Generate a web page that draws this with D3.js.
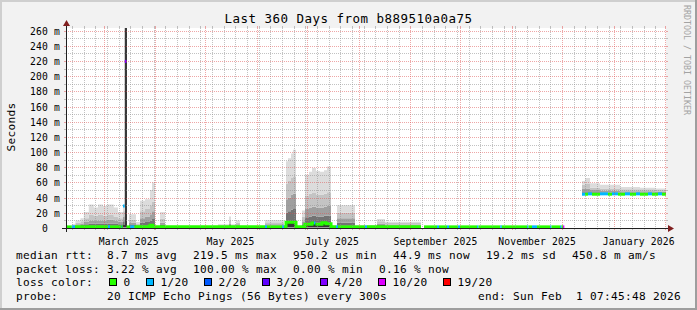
<!DOCTYPE html>
<html><head><meta charset="utf-8">
<script src="https://cdn.jsdelivr.net/npm/d3@7"></script>
<style>
html,body{margin:0;padding:0;background:#f2f2f2;}
svg{display:block;}
text{font-family:"DejaVu Sans Mono",monospace;}
</style></head><body>
<svg id="chart" width="697" height="310"></svg>
<script>
// ---------------- data ----------------
const titleText = "Last 360 Days from b889510a0a75";
const yAxisTitle = "Seconds";
const watermarkText = "RRDTOOL / TOBI OETIKER";
const startTime = "2025-02-06T07:45:48";
const endTime = "2026-02-01T07:45:48";
const yMaxMs = 263.5;
const yTickValues = [0, 20, 40, 60, 80, 100, 120, 140, 160, 180, 200, 220, 240, 260];
const yTickLabels = ["0  ", "20 m", "40 m", "60 m", "80 m", "100 m", "120 m", "140 m", "160 m", "180 m", "200 m", "220 m", "240 m", "260 m"];
const yMinorStep = 10;
const xLabelMonths = ["2025-03-01", "2025-05-01", "2025-07-01", "2025-09-01", "2025-11-01", "2026-01-01"];
const xLabelTexts = ["March 2025", "May 2025", "July 2025", "September 2025", "November 2025", "January 2026"];

// smoke: sorted ping levels (ms) per consolidated step, null = no smoke drawn
const smokeDates = ["2025-02-06T08","2025-02-10","2025-02-12","2025-02-15","2025-02-17","2025-02-20","2025-02-23","2025-02-25T12","2025-02-28T12","2025-03-03","2025-03-07","2025-03-09T12","2025-03-12T12","2025-03-13T14","2025-03-14T22","2025-03-16T03","2025-03-20T08","2025-03-22T17","2025-03-25T17","2025-03-28T17","2025-03-29T22","2025-03-31T17","2025-04-03T17","2025-04-06T17","2025-05-08T12","2025-05-15T03","2025-05-16T08","2025-05-19T08","2025-05-21T17","2025-06-05T17","2025-06-17T03","2025-06-18T08","2025-06-19T12","2025-06-21T08","2025-06-22T12","2025-06-24T08","2025-06-27T22","2025-06-29T17","2025-07-02T03","2025-07-03T22","2025-07-06T08","2025-07-08T17","2025-07-11T03","2025-07-12T22","2025-07-15T08","2025-07-18T22","2025-07-29T17","2025-08-11T22","2025-08-16T17","2025-09-07T08","2025-12-12T22","2025-12-14T17","2025-12-17T17","2025-12-23T17","2025-12-29T17","2026-01-04T17","2026-01-16T17","2026-01-25T17"];
const smokeMin = [null,0.8,0.8,0.8,0.8,0.8,0.8,0.8,0.8,0.8,0.8,0.8,0.8,0.8,null,0.8,0.8,0.8,0.8,0.8,0.8,null,0.8,null,0.8,0.8,0.8,0.8,null,0.8,null,0.8,0.8,0.8,0.8,null,0.8,0.8,0.8,0.8,0.8,0.8,0.8,0.8,null,0.8,0.8,0.8,0.8,null,44,44,44,44,44,44,44,44];
const smokeQ1 = [null,1.5,2,2,2.5,3,3,3,3,3,3,2.5,4,400,null,2,1.5,3,3,4,5,null,2,null,1.5,2,1.5,1.5,null,1.5,null,8,8,9,9,null,2,6,6,7,7,7,7,7,null,3,1.5,2,1.5,null,45,45,45,45,45,45,45,45];
const smokeQ2 = [null,2.5,3,4,5,6,6,6,6,6,6,5,9,400,null,4,2.5,7,8,10,12,null,4,null,2,4,2,3,null,3,null,20,22,24,25,null,5,14,15,16,15,15,16,16,null,7,2,4,3,null,47,47,47,46.5,46.5,46.5,46.5,46];
const smokeQ3 = [null,3.5,5,6,8,10,10,10,10,11,10,8,15,400,null,7,4,13,15,18,22,null,7,null,3,6,3,5,null,5,null,38,40,44,45,null,9,25,27,28,27,27,28,29,null,13,3,6,4.5,null,52,52,50,49,49,48.5,48.5,48];
const smokeQ4 = [null,4.5,7,9,13,17,16,17,16,17,15,13,22,400,null,11,6,22,25,30,35,null,12,null,4,10,4,7,null,7.5,null,58,62,66,68,null,15,42,45,46,44,44,45,47,null,20,3.5,9,6.5,null,57,58,53,52,52,51,51,50];
const smokeMax = [null,5,10,13,21,31,27,31,29,31,27,21,30,400,null,18,8,36,38,50,60,null,21,null,5,15,5,10,null,10.5,null,88,92,98,103,null,23,70,74,79,75,74,76,81,null,30,4,12,8.3,null,62,66,59,57,57,54,53,52];

// median rtt (ms) and loss bucket index per step
const medianDates = ["2025-02-06T08","2025-02-09T20","2025-02-11T17","2025-03-03T12","2025-03-04T17","2025-03-11T15","2025-03-12T00","2025-03-12T12","2025-03-13T14","2025-03-14T15","2025-03-16T17","2025-03-19T10","2025-03-28T17","2025-03-30T12","2025-06-05T17","2025-06-06T22","2025-06-15T22","2025-06-17T03","2025-06-18T08","2025-06-24T08","2025-06-29T17","2025-07-03T22","2025-07-05T03","2025-07-06T00","2025-07-09T22","2025-07-12T08","2025-07-15T08","2025-07-18T08","2025-07-19T12","2025-08-04T17","2025-08-05T22","2025-09-07T08","2025-09-09T03","2025-09-16T22","2025-09-18T03","2025-09-22T22","2025-09-24T03","2025-09-29T12","2025-09-30T17","2025-10-10T22","2025-10-11T20","2025-10-24T22","2025-10-25T20","2025-11-09T22","2025-11-10T20","2025-11-12T22","2025-11-15T22","2025-11-23T17","2025-11-24T15","2025-11-29T17","2025-11-30T15","2025-12-01T12","2025-12-02T08","2025-12-12T22","2025-12-14T17","2025-12-16T12","2025-12-18T22","2025-12-23T17","2025-12-28T12","2025-12-30T22","2026-01-03T12","2026-01-07T17","2026-01-10T17","2026-01-14T08","2026-01-16T17","2026-01-21T12","2026-01-23T22","2026-01-27T12","2026-01-29T22"];
const medianValues = [1.5,1.5,1.5,1.5,1.5,1.5,1.5,29,219.5,1.5,1.5,1.5,3.5,1.5,1.5,1.5,1.5,1.5,7.5,1.5,5,6.5,6.5,5,7,5.5,1.5,1.5,1.5,1.5,1.5,null,1.5,1.5,1.5,1.5,1.5,1.5,1.5,1.5,1.5,1.5,1.5,1.5,1.5,1.5,1.5,1.5,1.5,1.5,1.5,1.5,null,44.5,44.5,45,44.5,45,44.5,45,44.5,45,44.5,45,44.5,45,44.5,45,44.5];
const medianLoss = [0,1,0,1,0,1,0,1,4,0,1,0,0,0,1,0,1,0,0,0,0,0,1,0,0,0,0,1,0,1,0,null,0,1,0,1,0,1,0,1,0,1,0,1,0,1,0,1,0,1,0,5,null,1,0,1,0,1,0,1,0,1,0,1,0,1,0,1,0];

const lossLabels = ["0", "1/20", "2/20", "3/20", "4/20", "10/20", "19/20"];
const lossColors = ["#26ff00", "#00b8ff", "#0059ff", "#5e00ff", "#7e00ff", "#dd00ff", "#ff0000"];
const smokeColors = ["#383838", "#737373", "#a0a0a0", "#c4c4c4", "#dcdcdc"];

const rttLabel = "median rtt:";
const rttStats = ["8.7 ms avg", "219.5 ms max", "950.2 us min", "44.9 ms now", "19.2 ms sd", "450.8 m am/s"];
const lossLabel = "packet loss:";
const lossStats = ["3.22 % avg", "100.00 % max", "0.00 % min", "0.16 % now"];
const lossColorLabel = "loss color:";
const probeLabel = "probe:";
const probeText = "20 ICMP Echo Pings (56 Bytes) every 300s";
const endText = "end: Sun Feb  1 07:45:48 2026";

// ---------------- drawing ----------------
const W = 697, H = 310;
const X0 = 66, X1 = 666, Y0 = 228, Y1 = 28;
const pHour = d3.utcParse("%Y-%m-%dT%H");
const parseT = s => s.length === 10 ? pHour(s + "T00") : (s.length === 13 ? pHour(s) : d3.isoParse(s + "Z"));
const t0 = parseT(startTime), t1 = parseT(endTime);
const x = d3.scaleUtc().domain([t0, t1]).range([X0, X1]);
const y = d3.scaleLinear().domain([0, yMaxMs]).range([Y0, Y1]);

const svg = d3.select("#chart");
// background + 3D frame
svg.append("rect").attr("width", W).attr("height", H).attr("fill", "#f2f2f2");
svg.append("path").attr("d", `M0,0H${W}V2H2V${H}H0Z`).attr("fill", "#cfcfcf");
svg.append("path").attr("d", `M${W},${H}H0V${H-2}H${W-2}V0H${W}Z`).attr("fill", "#9e9e9e");
// canvas
svg.append("rect").attr("x", X0).attr("y", Y1).attr("width", X1 - X0).attr("height", Y0 - Y1).attr("fill", "#ffffff");

const defs = svg.append("defs");
defs.append("clipPath").attr("id", "clip").append("rect").attr("x", X0).attr("y", Y1).attr("width", X1 - X0).attr("height", Y0 - Y1);
const plot = svg.append("g").attr("clip-path", "url(#clip)");

function runs(dates, ok, key) {
  const out = []; let cur = null;
  for (let i = 0; i < dates.length; i++) {
    if (ok(i) && cur && key(i) === cur.key) cur.idx.push(i);
    else {
      if (cur) out.push(cur);
      cur = ok(i) ? { key: key(i), idx: [i] } : null;
    }
  }
  if (cur) out.push(cur);
  return out.map(r => {
    const last = r.idx[r.idx.length - 1];
    const pts = r.idx.map(i => ({ t: parseT(dates[i]), i }));
    pts.push({ t: last + 1 < dates.length ? parseT(dates[last + 1]) : t1, i: last });
    return { key: r.key, pts };
  });
}

// smoke bands
const levels = [smokeMin, smokeQ1, smokeQ2, smokeQ3, smokeQ4, smokeMax];
const smokeRuns = runs(smokeDates, i => smokeMax[i] !== null, () => 1);
for (let k = 0; k < 5; k++) {
  const area = d3.area().curve(d3.curveStepAfter)
    .x(p => x(p.t)).y0(p => y(levels[k][p.i])).y1(p => y(levels[k + 1][p.i]));
  smokeRuns.forEach(r => {
    plot.append("path").attr("d", area(r.pts)).attr("fill", smokeColors[k]);
  });
}

// median line coloured by loss
const medRuns = runs(medianDates, i => medianValues[i] !== null && medianLoss[i] !== null, i => medianLoss[i]);
const medLine = d3.line().curve(d3.curveStepAfter).x(p => x(p.t)).y(p => y(medianValues[p.i]));
medRuns.forEach(r => {
  plot.append("path").attr("d", medLine(r.pts)).attr("fill", "none")
    .attr("stroke", lossColors[r.key]).attr("stroke-width", 3);
});

// grid (drawn over data, like rrdtool)
const gridCol = "rgba(143,143,143,0.55)", mgridCol = "rgba(222,79,79,0.5)";
const g = svg.append("g").attr("shape-rendering", "crispEdges");
const majorT = d3.utcMonth.range(t0, t1);
const minorT = d3.utcMonday.range(t0, t1).filter(d => d.getUTCDate() !== 1);
function vline(t, col) {
  const px = Math.round(x(t)) + 0.5;
  g.append("line").attr("x1", px).attr("x2", px).attr("y1", Y1).attr("y2", Y0)
    .attr("stroke", col).attr("stroke-dasharray", "1,1");
  g.append("line").attr("x1", px).attr("x2", px).attr("y1", Y1 - 2).attr("y2", Y1).attr("stroke", col);
  g.append("line").attr("x1", px).attr("x2", px).attr("y1", Y0).attr("y2", Y0 + 2).attr("stroke", col);
}
function hline(v, col) {
  const py = Math.round(y(v)) + 0.5;
  g.append("line").attr("x1", X0).attr("x2", X1).attr("y1", py).attr("y2", py)
    .attr("stroke", col).attr("stroke-dasharray", "1,1");
  g.append("line").attr("x1", X0 - 2).attr("x2", X0).attr("y1", py).attr("y2", py).attr("stroke", col);
  g.append("line").attr("x1", X1).attr("x2", X1 + 2).attr("y1", py).attr("y2", py).attr("stroke", col);
}
minorT.forEach(t => vline(t, gridCol));
d3.range(yMinorStep, yMaxMs, yMinorStep).filter(v => !yTickValues.includes(v)).forEach(v => hline(v, gridCol));
majorT.forEach(t => vline(t, mgridCol));
yTickValues.filter(v => v > 0).forEach(v => hline(v, mgridCol));

// axes
const axisCol = "#1f1f1f", arrowCol = "#801f1f";
g.append("line").attr("x1", X0 - 4).attr("x2", X1 + 4).attr("y1", Y0 + 0.5).attr("y2", Y0 + 0.5).attr("stroke", axisCol);
g.append("line").attr("x1", X0 + 0.5).attr("x2", X0 + 0.5).attr("y1", Y0 + 4).attr("y2", Y1 - 4).attr("stroke", axisCol);
svg.append("path").attr("d", `M${X1 + 2},${Y0 - 3}L${X1 + 2},${Y0 + 4}L${X1 + 8},${Y0 + 0.5}Z`).attr("fill", arrowCol);
svg.append("path").attr("d", `M${X0 - 3},${Y1 - 2}L${X0 + 4},${Y1 - 2}L${X0 + 0.5},${Y1 - 8}Z`).attr("fill", arrowCol);

// axis labels
const axisFont = 9.7, axisLS = 6 - 0.602 * axisFont;
svg.append("g").selectAll("text").data(yTickValues).join("text")
  .attr("x", 60).attr("y", v => Math.round(y(v)) + 4)
  .attr("text-anchor", "end").attr("xml:space", "preserve").style("white-space", "pre")
  .attr("font-size", axisFont).attr("letter-spacing", axisLS).attr("fill", "#000")
  .text((v, i) => yTickLabels[i]);
svg.append("g").selectAll("text").data(xLabelMonths).join("text")
  .attr("x", d => x(d3.utcDay.offset(parseT(d), 15))).attr("y", 244.5)
  .attr("text-anchor", "middle")
  .attr("font-size", axisFont).attr("letter-spacing", axisLS).attr("fill", "#000")
  .text((d, i) => xLabelTexts[i]);

// title, y title, watermark
svg.append("text").attr("x", W / 2).attr("y", 23).attr("text-anchor", "middle")
  .attr("font-size", 12.5).attr("letter-spacing", 8 - 0.602 * 12.5).attr("fill", "#000").text(titleText);
const legFont = 11.1, legLS = 7 - 0.602 * legFont;
svg.append("text").attr("transform", "translate(14.5,127) rotate(-90)").attr("text-anchor", "middle")
  .attr("font-size", legFont).attr("letter-spacing", legLS).attr("fill", "#000").text(yAxisTitle);
svg.append("text").attr("transform", "translate(684,5) rotate(90)")
  .attr("font-size", 8.3).attr("letter-spacing", 5 - 0.602 * 8.3).attr("fill", "#a3a3a3").text(watermarkText);

// legend
const CH = 7;
function legText(xp, yp, s) {
  svg.append("text").attr("x", xp).attr("y", yp).attr("xml:space", "preserve").style("white-space", "pre")
    .attr("font-size", legFont).attr("letter-spacing", legLS).attr("fill", "#000").text(s);
}
function statLine(yp, label, items) {
  legText(16, yp, label);
  let cx = 107;
  items.forEach(s => { legText(cx, yp, s); cx += s.length * CH + 16; });
}
statLine(259, rttLabel, rttStats);
statLine(272.7, lossLabel, lossStats);
legText(16, 286.4, lossColorLabel);
let bx = 108.7;
lossLabels.forEach((s, i) => {
  const rx = Math.round(bx) + 0.5;
  svg.append("rect").attr("x", rx).attr("y", 278.5).attr("width", 7).attr("height", 7)
    .attr("fill", lossColors[i]).attr("stroke", "#000").attr("stroke-width", 1);
  legText(bx + 14.7, 286.4, s);
  bx += s.length * CH + 30;
});
legText(16, 300, probeLabel);
legText(107, 300, probeText);
legText(681 - endText.length * CH, 300, endText);
</script>
</body></html>
